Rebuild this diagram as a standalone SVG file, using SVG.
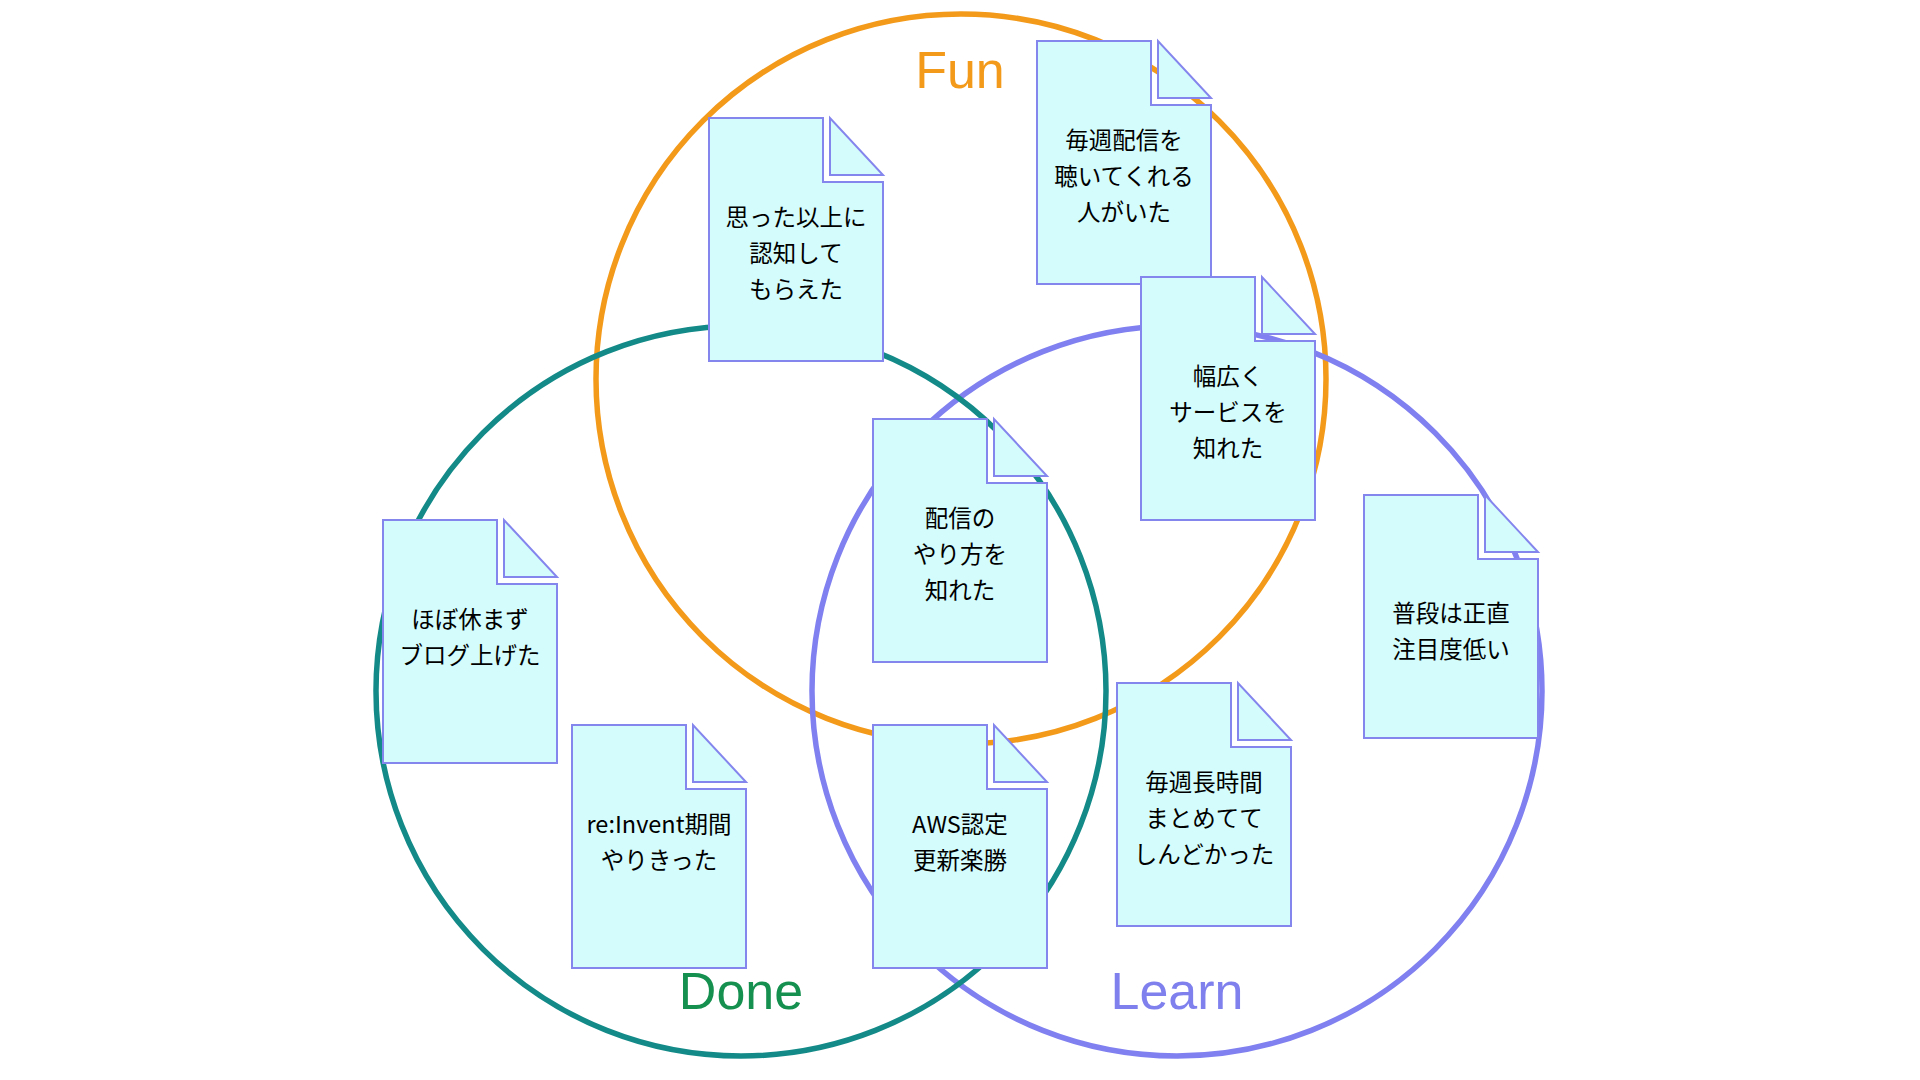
<svg xmlns="http://www.w3.org/2000/svg" xmlns:xlink="http://www.w3.org/1999/xlink" width="1920" height="1080" viewBox="0 0 1920 1080">
  <style>
    .set { fill: none; stroke-width: 5.5; }
    .fun { stroke: #F39A1B; }
    .done { stroke: #138A88; }
    .learn { stroke: #8080F0; }
    .setlabel { font-family: "Liberation Sans", Arial, sans-serif; font-size: 52px; text-anchor: middle; }
    .doc-shape { fill: #D4FCFC; stroke: #8585EE; stroke-width: 2; stroke-linejoin: miter; }
    .doc-text { font-family: "Noto Sans CJK JP", "Noto Sans", sans-serif; font-size: 23.5px; fill: #000000; text-anchor: middle; }
  </style>
  <defs>
    <g id="doc">
      <path class="doc-shape" d="M0,0 H114 V64 H174 V243 H0 Z"/>
      <path class="doc-shape" d="M121,0 V57 H174 Z"/>
    </g>
  </defs>
  <rect width="1920" height="1080" fill="#FFFFFF"/>

  <g id="set-fun">
    <circle class="set fun" cx="961" cy="379" r="365"/>
  </g>
  <g id="set-learn">
    <circle class="set learn" cx="1177" cy="691" r="365"/>
  </g>
  <g id="set-done">
    <circle class="set done" cx="741" cy="691" r="365"/>
  </g>

  <g id="labels">
    <text class="setlabel" x="960" y="88" fill="#F39A1B">Fun</text>
    <text class="setlabel" x="741" y="1009" fill="#15904F">Done</text>
    <text class="setlabel" x="1177" y="1009" fill="#7F80EE">Learn</text>
  </g>

  <g id="connectors"></g>

  <g id="doc-ninchi" transform="translate(709,118)">
    <use xlink:href="#doc" href="#doc"/>
    <text class="doc-text" x="87" y="108">思った以上に<tspan x="87" dy="36">認知して</tspan><tspan x="87" dy="36">もらえた</tspan></text>
  </g>

  <g id="doc-kiite" transform="translate(1037,41)">
    <use xlink:href="#doc" href="#doc"/>
    <text class="doc-text" x="87" y="108">毎週配信を<tspan x="87" dy="36">聴いてくれる</tspan><tspan x="87" dy="36">人がいた</tspan></text>
  </g>

  <g id="doc-habahiroku" transform="translate(1141,277)">
    <use xlink:href="#doc" href="#doc"/>
    <text class="doc-text" x="87" y="108">幅広く<tspan x="87" dy="36">サービスを</tspan><tspan x="87" dy="36">知れた</tspan></text>
  </g>

  <g id="doc-yarikata" transform="translate(873,419)">
    <use xlink:href="#doc" href="#doc"/>
    <text class="doc-text" x="87" y="108">配信の<tspan x="87" dy="36">やり方を</tspan><tspan x="87" dy="36">知れた</tspan></text>
  </g>

  <g id="doc-blog" transform="translate(383,520)">
    <use xlink:href="#doc" href="#doc"/>
    <text class="doc-text" x="87" y="108">ほぼ休まず<tspan x="87" dy="36">ブログ上げた</tspan></text>
  </g>

  <g id="doc-reinvent" transform="translate(572,725)">
    <use xlink:href="#doc" href="#doc"/>
    <text class="doc-text" x="87" y="108">re:Invent期間<tspan x="87" dy="36">やりきった</tspan></text>
  </g>

  <g id="doc-aws" transform="translate(873,725)">
    <use xlink:href="#doc" href="#doc"/>
    <text class="doc-text" x="87" y="108">AWS認定<tspan x="87" dy="36">更新楽勝</tspan></text>
  </g>

  <g id="doc-matome" transform="translate(1117,683)">
    <use xlink:href="#doc" href="#doc"/>
    <text class="doc-text" x="87" y="108">毎週長時間<tspan x="87" dy="36">まとめてて</tspan><tspan x="87" dy="36">しんどかった</tspan></text>
  </g>

  <g id="doc-chumoku" transform="translate(1364,495)">
    <use xlink:href="#doc" href="#doc"/>
    <text class="doc-text" x="87" y="127">普段は正直<tspan x="87" dy="36">注目度低い</tspan></text>
  </g>
</svg>
